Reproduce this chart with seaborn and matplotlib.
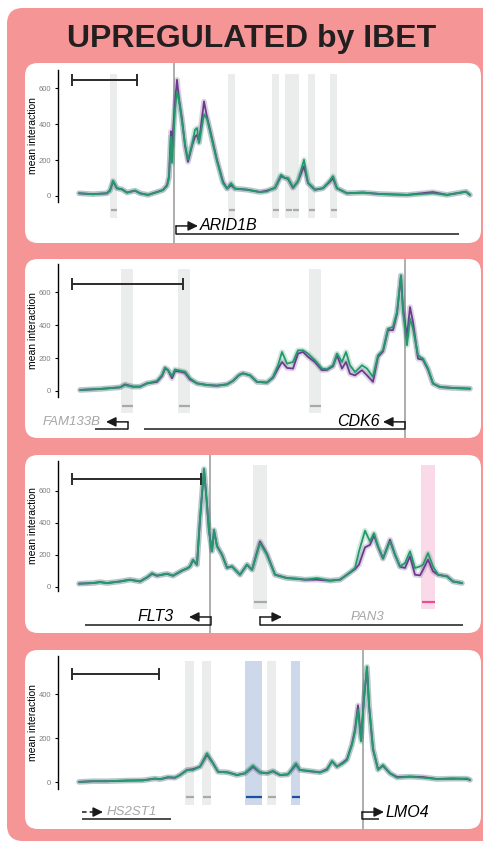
import matplotlib
matplotlib.use("Agg")
import matplotlib.pyplot as plt
from matplotlib.patches import FancyBboxPatch
import seaborn as sns

# ---------------- data (x in kb from window start, y = mean interaction) ----------------
# panel 1 : ARID1B
p1_x = [0, 14, 28, 31, 34, 38, 43, 48, 56, 61, 69, 78, 84, 88, 90, 92, 93, 96, 98, 100,
        103, 106, 109, 113, 116, 118, 120, 125, 128, 131, 138, 144, 148, 152, 156, 168, 181, 188, 191, 196,
        202, 206, 209, 214, 219, 225, 229, 236, 244, 250, 254, 258, 268, 284, 301, 328, 354, 368, 387, 391]
p1_green = [15, 10, 15, 33, 85, 43, 37, 19, 30, 15, 6, 22, 33, 56, 100, 330, 184, 480, 583, 530,
            416, 290, 202, 286, 369, 379, 295, 455, 430, 360, 193, 72, 41, 72, 41, 35, 22, 25, 35, 45,
            119, 100, 100, 48, 82, 202, 72, 35, 43, 80, 111, 43, 15, 19, 11, 6, 15, 6, 24, 6]
p1_purple = [15, 10, 15, 30, 80, 43, 37, 19, 30, 15, 6, 22, 33, 60, 110, 360, 280, 520, 648, 540,
             430, 280, 190, 280, 330, 340, 300, 527, 440, 370, 200, 80, 41, 60, 41, 35, 22, 30, 35, 45,
             110, 100, 95, 45, 82, 165, 72, 35, 43, 75, 98, 43, 15, 19, 11, 6, 22, 6, 24, 6]
p1_reg_start = [31, 149, 193, 206, 213, 229, 251]
p1_reg_end = [38, 156, 200, 213, 220, 236, 258]
p1_reg_kind = ["grey"] * 7
p1_tss = 95
p1_scale = [-7, 58]
p1_genes = [dict(name="ARID1B", tss=97, strand="+", body=(97, 380), label_x=121, major=True)]

# panel 2 : CDK6
p2_x = [1, 21, 41, 46, 54, 61, 68, 78, 83, 86, 89, 93, 96, 101, 106, 111, 118, 128, 138, 148,
        154, 159, 161, 164, 171, 178, 188, 194, 199, 203, 208, 214, 219, 224, 229, 236, 243, 248, 254, 258,
        263, 267, 271, 276, 283, 288, 294, 299, 304, 309, 314, 318, 322, 324, 328, 331, 334, 339, 344, 349,
        354, 361, 374, 391]
p2_green = [6, 12, 22, 36, 26, 26, 46, 61, 97, 143, 127, 91, 131, 123, 117, 77, 46, 36, 32, 40,
            61, 91, 99, 107, 95, 55, 51, 85, 156, 237, 166, 176, 247, 247, 227, 186, 136, 132, 156, 227,
            176, 237, 156, 115, 156, 136, 85, 217, 247, 379, 389, 480, 703, 480, 278, 440, 379, 217, 196, 136,
            45, 24, 18, 14]
p2_purple = [6, 12, 22, 40, 26, 26, 46, 55, 90, 135, 127, 77, 120, 118, 110, 70, 46, 36, 32, 40,
             61, 91, 100, 107, 95, 55, 51, 80, 136, 176, 140, 136, 227, 237, 207, 175, 126, 128, 150, 217,
             136, 176, 105, 95, 126, 95, 55, 207, 240, 370, 369, 470, 700, 500, 330, 510, 420, 196, 190, 130,
             45, 24, 18, 14]
p2_reg_start = [42, 99, 230]
p2_reg_end = [54, 111, 242]
p2_reg_kind = ["grey"] * 3
p2_tss = 326
p2_scale = [-7, 104]
p2_genes = [dict(name="FAM133B", tss=49, strand="-", body=(16, 49), label_x=22, major=False),
            dict(name="CDK6", tss=326, strand="-", body=(65, 326), label_x=301, major=True)]

# panel 3 : FLT3
p3_x = [0, 14, 21, 28, 41, 51, 61, 68, 73, 78, 88, 94, 103, 109, 111, 114, 118, 121, 125, 128,
        130, 133, 135, 138, 143, 148, 153, 161, 168, 173, 181, 188, 196, 208, 218, 226, 238, 251, 261, 268,
        276, 280, 286, 291, 295, 299, 304, 311, 316, 321, 326, 331, 336, 341, 344, 349, 354, 359, 368, 374,
        383]
p3_green = [19, 23, 29, 23, 33, 44, 33, 58, 85, 69, 81, 69, 102, 117, 127, 169, 138, 429, 738, 513,
            346, 221, 356, 252, 200, 117, 127, 75, 138, 106, 273, 200, 75, 54, 50, 44, 54, 38, 44, 75,
            117, 221, 350, 283, 335, 252, 179, 283, 200, 127, 148, 221, 117, 127, 138, 210, 127, 75, 65, 33,
            23]
p3_purple = [19, 23, 29, 23, 33, 44, 33, 58, 80, 69, 81, 69, 100, 117, 127, 165, 138, 420, 730, 513,
             346, 225, 350, 255, 200, 120, 127, 75, 138, 106, 283, 205, 75, 54, 50, 44, 44, 38, 44, 75,
             110, 138, 246, 262, 321, 250, 175, 294, 200, 125, 117, 190, 75, 71, 106, 169, 96, 75, 65, 33,
             23]
p3_reg_start = [174, 342]
p3_reg_end = [188, 356]
p3_reg_kind = ["grey", "pink"]
p3_tss = 131
p3_scale = [-7, 122]
p3_genes = [dict(name="FLT3", tss=132, strand="-", body=(6, 132), label_x=95, major=True),
            dict(name="PAN3", tss=181, strand="+", body=(181, 384), label_x=272, major=False)]

# panel 4 : LMO4
p4_x = [0, 14, 28, 48, 64, 76, 81, 89, 96, 101, 108, 114, 121, 128, 133, 139, 149, 158, 166, 174,
        181, 188, 194, 201, 209, 217, 221, 231, 241, 248, 253, 258, 264, 268, 273, 276, 279, 282, 285, 288,
        290, 294, 299, 304, 311, 318, 331, 344, 358, 374, 388, 391]
p4_green = [2, 5, 5, 8, 9, 17, 14, 24, 21, 33, 56, 56, 71, 132, 94, 48, 45, 33, 41, 76,
            45, 41, 52, 33, 36, 86, 56, 52, 45, 56, 97, 71, 86, 101, 170, 230, 329, 185, 382, 526,
            352, 155, 56, 79, 41, 21, 26, 21, 15, 15, 18, 11]
p4_purple = [2, 5, 5, 8, 9, 17, 14, 22, 21, 33, 56, 60, 71, 125, 94, 48, 45, 33, 41, 70,
             45, 41, 50, 33, 36, 80, 56, 50, 45, 60, 95, 71, 90, 105, 175, 240, 350, 200, 380, 520,
             350, 150, 60, 75, 41, 24, 26, 24, 15, 18, 15, 11]
p4_reg_start = [106, 123, 166, 188, 212]
p4_reg_end = [115, 132, 183, 197, 221]
p4_reg_kind = ["grey", "grey", "blue", "grey", "blue"]
p4_tss = 284
p4_scale = [-7, 80]
p4_genes = [dict(name="HS2ST1", tss=None, strand="+", body=(3, 92), label_x=28, major=False),
            dict(name="LMO4", tss=283, strand="+", body=(283, 300), label_x=307, major=True)]

title = "UPREGULATED by IBET"

# ---------------- styling / layout ----------------
sns.set_theme(style="ticks")
plt.rcParams['font.family'] = ['Liberation Sans', 'DejaVu Sans']

GREEN = "#23996B"
PURPLE = "#6C3A8D"
BAND = {"grey": "#EBECEC", "pink": "#FADAE8", "blue": "#CDD9EB"}
MARK = {"grey": "#A9A9A9", "pink": "#EC4C97", "blue": "#1C4FA0"}
SALMON = "#F59595"

panels = [
    dict(x=p1_x, g=p1_green, p=p1_purple, rs=p1_reg_start, re=p1_reg_end, rk=p1_reg_kind,
         tss=p1_tss, scale=p1_scale, genes=p1_genes, yticks=[0, 200, 400, 600],
         top=63, bot=243, ylim=(-262, 741), spine=(-33, 702), band=(-123, 680), mark=-78,
         scale_y=646, arrow_y=-167, body_y=-212),
    dict(x=p2_x, g=p2_green, p=p2_purple, rs=p2_reg_start, re=p2_reg_end, rk=p2_reg_kind,
         tss=p2_tss, scale=p2_scale, genes=p2_genes, yticks=[0, 200, 400, 600],
         top=259, bot=438, ylim=(-286, 802), spine=(-36, 772), band=(-134, 742), mark=-91,
         scale_y=650, arrow_y=-188, body_y=-231),
    dict(x=p3_x, g=p3_green, p=p3_purple, rs=p3_reg_start, re=p3_reg_end, rk=p3_reg_kind,
         tss=p3_tss, scale=p3_scale, genes=p3_genes, yticks=[0, 200, 400, 600],
         top=455, bot=633, ylim=(-289, 823), spine=(-27, 786), band=(-139, 761), mark=-96,
         scale_y=673, arrow_y=-189, body_y=-239),
    dict(x=p4_x, g=p4_green, p=p4_purple, rs=p4_reg_start, re=p4_reg_end, rk=p4_reg_kind,
         tss=p4_tss, scale=p4_scale, genes=p4_genes, yticks=[0, 200, 400],
         top=650, bot=829, ylim=(-212, 601), spine=(-30, 574), band=(-103, 551), mark=-67,
         scale_y=492, arrow_y=-135, body_y=-167),
]

W, H = 483, 842
fig = plt.figure(figsize=(W / 100, H / 100), dpi=100)
fig.patch.set_facecolor("white")

bg = fig.add_axes([0, 0, 1, 1])
bg.set_xlim(0, W)
bg.set_ylim(H, 0)
bg.axis("off")
bg.add_patch(FancyBboxPatch((7, 8), 520, 833, boxstyle="round,pad=0,rounding_size=16",
                            fc=SALMON, ec="none"))
for pn in panels:
    bg.add_patch(FancyBboxPatch((25, pn["top"]), 456, pn["bot"] - pn["top"],
                                boxstyle="round,pad=0,rounding_size=13", fc="white", ec="none"))
bg.text(252, 47, title, ha="center", va="baseline", fontsize=23, fontweight="bold", color="#231F20")

AX_L, AX_R = 58, 480
for pn in panels:
    ax = fig.add_axes([AX_L / W, 1 - pn["bot"] / H, (AX_R - AX_L) / W, (pn["bot"] - pn["top"]) / H])
    ax.set_facecolor("none")
    ax.set_xlim(-21, 401)
    ax.set_ylim(*pn["ylim"])

    # highlighted regions + marks
    b0, b1 = pn["band"]
    for s, e, k in zip(pn["rs"], pn["re"], pn["rk"]):
        ax.bar((s + e) / 2, b1 - b0, bottom=b0, width=e - s, color=BAND[k], lw=0, zorder=1)
        ax.hlines(pn["mark"], s + 0.5, e - 0.5, color=MARK[k], lw=1.6, zorder=2)

    ax.axvline(pn["tss"], color="#A8A8A8", lw=1.3, zorder=1.5)

    # ribbons (wide translucent) then lines
    for ys, c in [(pn["p"], PURPLE), (pn["g"], GREEN)]:
        sns.lineplot(x=pn["x"], y=ys, ax=ax, color=c, linewidth=4, alpha=0.22,
                     estimator=None, sort=False, legend=False, zorder=3)
    for ys, c in [(pn["p"], PURPLE), (pn["g"], GREEN)]:
        sns.lineplot(x=pn["x"], y=ys, ax=ax, color=c, linewidth=1.3,
                     estimator=None, sort=False, legend=False, zorder=4)

    # scale bar
    ax.plot(pn["scale"], [pn["scale_y"]] * 2, color="#2B2B2B", lw=1.4, marker="|",
            markersize=8, mew=1.4, zorder=5)

    # gene models
    ya, yb = pn["arrow_y"], pn["body_y"]
    arrow_kw = dict(arrowstyle="-|>,head_length=0.45,head_width=0.22", color="#1A1A1A", lw=1.1,
                    mutation_scale=13, shrinkA=0, shrinkB=0)
    for gdef in pn["genes"]:
        col = "black" if gdef["major"] else "#A6A6A6"
        fs = 11.5 if gdef["major"] else 9.5
        ax.plot(gdef["body"], [yb, yb], color="#1A1A1A", lw=1.1, solid_capstyle="butt")
        d = 22 if gdef["strand"] == "+" else -22
        if gdef["tss"] is None:
            x0 = gdef["body"][0]
            ax.plot([x0, x0 + 14], [ya, ya], color="#1A1A1A", lw=1.1, ls=(0, (3, 2)))
            ax.annotate("", xy=(x0 + 21, ya), xytext=(x0 + 12, ya), arrowprops=arrow_kw)
        else:
            t = gdef["tss"]
            ax.plot([t, t], [yb, ya], color="#1A1A1A", lw=1.1)
            ax.annotate("", xy=(t + d, ya), xytext=(t, ya), arrowprops=arrow_kw)
        ha = "left" if gdef["strand"] == "+" else "right"
        ax.text(gdef["label_x"], ya, gdef["name"], ha=ha, va="center", fontsize=fs,
                style="italic", color=col)

    # axis styling
    for side in ["top", "right", "bottom"]:
        ax.spines[side].set_visible(False)
    ax.spines["left"].set_bounds(*pn["spine"])
    ax.spines["left"].set_linewidth(1.0)
    ax.spines["left"].set_color("black")
    ax.set_xticks([])
    ax.set_yticks(pn["yticks"])
    ax.tick_params(axis="y", length=2, width=0.8, pad=3, labelsize=5.5, labelcolor="#7F7F7F",
                   color="black")
    ax.set_xlabel("")
    ax.set_ylabel("mean interaction", fontsize=7.5, color="black")
    ax.yaxis.set_label_coords(-0.047, sum(pn["spine"]) / 2, transform=ax.get_yaxis_transform())

fig.savefig("out.png", dpi=100)
